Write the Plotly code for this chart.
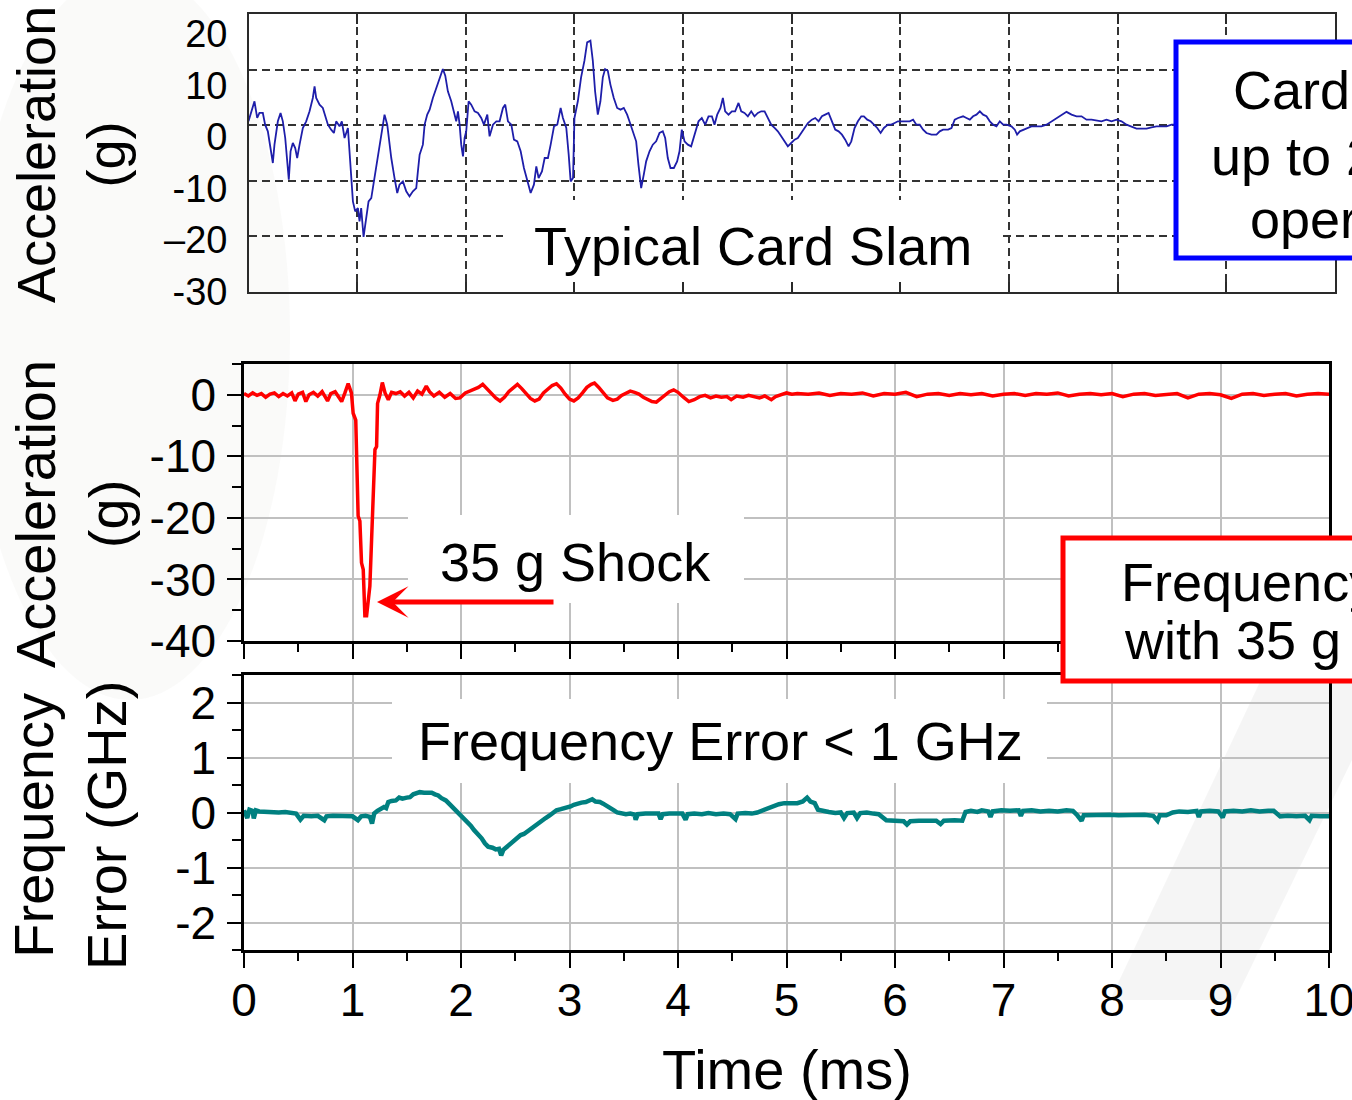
import plotly.graph_objects as go

W, H = 1352, 1100

# ---------------- data ----------------
# Top panel: typical card slam (g) vs time (ms)
slam_t = [0.000, 0.025, 0.055, 0.080, 0.101, 0.132, 0.153, 0.178, 0.209, 0.224, 0.239, 0.270, 0.295, 0.316,
          0.338, 0.356, 0.371, 0.387, 0.408, 0.430, 0.448, 0.470, 0.500, 0.531, 0.562, 0.592, 0.608, 0.623,
          0.654, 0.684, 0.700, 0.731, 0.761, 0.786, 0.807, 0.838, 0.859, 0.884, 0.915, 0.939, 0.961, 0.982,
          1.007, 1.022, 1.037, 1.059, 1.074, 1.105, 1.130, 1.160, 1.191, 1.222, 1.252, 1.277, 1.292, 1.314,
          1.344, 1.369, 1.390, 1.421, 1.452, 1.482, 1.513, 1.544, 1.559, 1.575, 1.605, 1.621, 1.645, 1.667,
          1.697, 1.728, 1.759, 1.789, 1.811, 1.835, 1.866, 1.891, 1.912, 1.928, 1.943, 1.958, 1.974, 1.989,
          2.004, 2.026, 2.050, 2.081, 2.112, 2.142, 2.167, 2.198, 2.219, 2.250, 2.281, 2.311, 2.342, 2.363,
          2.388, 2.419, 2.443, 2.474, 2.505, 2.535, 2.566, 2.597, 2.627, 2.649, 2.670, 2.701, 2.726, 2.756,
          2.781, 2.812, 2.842, 2.873, 2.894, 2.925, 2.947, 2.965, 2.987, 3.000, 3.031, 3.061, 3.092, 3.117,
          3.147, 3.169, 3.190, 3.215, 3.239, 3.261, 3.282, 3.307, 3.331, 3.362, 3.393, 3.424, 3.454, 3.485,
          3.506, 3.537, 3.568, 3.589, 3.614, 3.638, 3.660, 3.691, 3.721, 3.752, 3.783, 3.813, 3.835, 3.859,
          3.884, 3.915, 3.945, 3.967, 3.988, 4.013, 4.044, 4.074, 4.105, 4.142, 4.172, 4.203, 4.234, 4.265,
          4.289, 4.314, 4.344, 4.366, 4.387, 4.418, 4.449, 4.479, 4.510, 4.535, 4.565, 4.596, 4.627, 4.657,
          4.688, 4.719, 4.750, 4.780, 4.811, 4.842, 4.872, 4.903, 4.934, 4.964, 4.995, 5.026, 5.056, 5.087,
          5.118, 5.149, 5.185, 5.216, 5.247, 5.278, 5.308, 5.339, 5.370, 5.400, 5.431, 5.462, 5.492, 5.523,
          5.548, 5.578, 5.609, 5.640, 5.664, 5.695, 5.726, 5.756, 5.787, 5.818, 5.848, 5.885, 5.916, 5.947,
          5.977, 6.040, 6.086, 6.117, 6.147, 6.178, 6.209, 6.240, 6.286, 6.332, 6.362, 6.393, 6.439, 6.470,
          6.500, 6.531, 6.577, 6.608, 6.639, 6.669, 6.700, 6.731, 6.761, 6.792, 6.823, 6.853, 6.884, 6.915,
          6.946, 6.976, 7.022, 7.053, 7.074, 7.099, 7.130, 7.160, 7.206, 7.252, 7.298, 7.345, 7.391, 7.437,
          7.483, 7.529, 7.575, 7.621, 7.667, 7.713, 7.759, 7.805, 7.851, 7.897, 7.943, 7.989, 8.035, 8.081,
          8.127, 8.173, 8.219, 8.265, 8.311, 8.357, 8.403, 8.450, 8.496, 8.550]
slam_g = [0.7, 2.5, 4.3, 1.3, 2.2, 2.2, 0.1, -1.1, -5.3, -6.8, -3.5, 0.7, 2.2, 0.7,
          -2.3, -7.1, -9.8, -4.7, -3.2, -4.1, -5.9, -3.5, -0.5, 0.7, 2.5, 4.9, 7.0, 4.9,
          3.7, 3.1, 2.2, 0.1, -0.8, -1.4, 0.7, -0.2, 0.7, -2.3, -0.5, -7.1, -13.7, -15.5,
          -14.9, -17.3, -14.9, -20.1, -18.0, -13.7, -13.1, -9.5, -5.9, -2.3, 1.9, 0.1, -2.3, -5.9,
          -9.5, -12.2, -10.7, -10.1, -11.9, -12.8, -11.9, -11.3, -8.3, -5.3, -3.5, 0.1, 1.9, 2.8,
          4.9, 6.7, 8.6, 10.1, 8.9, 6.1, 4.3, 2.5, 0.7, 2.5, 0.1, -3.5, -5.6, -2.3,
          -1.1, 4.3, 3.7, 2.5, 2.2, 1.3, 0.1, 1.9, -2.0, 0.1, 0.7, 0.7, 3.1, 3.7,
          0.7, 0.1, -2.6, -2.9, -4.7, -7.7, -9.8, -12.2, -10.7, -7.4, -9.5, -8.3, -5.9, -5.9,
          -3.5, -0.2, 0.1, 3.1, 1.3, -0.5, -5.3, -10.1, -9.5, 1.3, 4.3, 8.6, 11.6, 14.9,
          15.2, 11.6, 6.1, 1.9, 4.3, 8.6, 10.1, 9.8, 7.3, 4.9, 3.1, 2.8, 3.1, 1.9,
          0.7, -1.1, -2.9, -7.1, -11.3, -8.9, -6.5, -4.7, -3.5, -2.9, -1.4, -1.1, -2.3, -5.9,
          -7.7, -7.7, -6.5, -4.7, -0.8, -2.9, -3.5, -3.8, -1.7, 0.7, 1.3, 0.1, 1.6, 1.6,
          0.1, 1.9, 3.1, 4.9, 2.5, 1.9, 2.5, 2.5, 4.0, 2.5, 2.2, 1.6, 2.5, 1.6,
          2.2, 2.5, 2.5, 1.3, 0.1, -0.5, -1.1, -2.0, -2.9, -3.8, -3.2, -2.6, -2.3, -1.4,
          -0.5, 0.4, 1.0, 1.3, 0.7, 1.6, 1.9, 2.2, 0.7, -0.8, -1.1, -1.7, -2.6, -3.8,
          -2.9, -0.5, 0.7, 1.6, 1.6, 1.0, 0.7, 0.1, -0.5, -1.4, -0.5, 0.1, 0.1, 0.4,
          0.7, 0.7, 0.7, 1.0, 0.1, 0.1, -0.8, -1.4, -1.7, -1.7, -1.1, -0.8, -0.8, -0.5,
          1.0, 1.3, 1.6, 1.3, 1.0, 1.6, 1.9, 2.5, 1.9, 1.6, 0.7, 0.1, -0.2, 0.7,
          0.1, 0.1, -0.2, -0.8, -1.7, -1.1, -0.8, -0.5, -0.2, -0.2, -0.2, 0.1, 0.7, 1.3,
          1.9, 2.4, 1.9, 1.6, 1.6, 1.0, 1.0, 0.8, 0.7, 1.0, 0.7, 1.0, 0.7, 0.1,
          -0.2, -0.6, -0.6, -0.6, -0.4, -0.2, -0.2, -0.2, 0.1, 0.1]

# Middle panel: 35 g shock (g) vs time (ms)
shock_t = [0.00, 0.04, 0.08, 0.12, 0.16, 0.20, 0.24, 0.28, 0.32, 0.36, 0.40, 0.44, 0.47, 0.50,
           0.54, 0.57, 0.60, 0.64, 0.68, 0.72, 0.77, 0.80, 0.84, 0.87, 0.90, 0.93, 0.96, 0.99,
           1.006, 1.030, 1.037, 1.046, 1.052, 1.068, 1.083, 1.099, 1.108, 1.114, 1.130, 1.145, 1.160,
           1.176, 1.191, 1.207, 1.222, 1.231, 1.253, 1.275, 1.30, 1.33, 1.36, 1.40, 1.44, 1.48,
           1.52, 1.56, 1.60, 1.64, 1.68, 1.71, 1.75, 1.80, 1.85, 1.90, 1.95, 1.99, 2.04, 2.08,
           2.12, 2.16, 2.20, 2.24, 2.28, 2.32, 2.36, 2.40, 2.44, 2.48, 2.52, 2.56, 2.60, 2.64,
           2.68, 2.72, 2.76, 2.80, 2.84, 2.88, 2.92, 2.96, 3.00, 3.04, 3.08, 3.12, 3.16, 3.20,
           3.23, 3.27, 3.31, 3.35, 3.40, 3.44, 3.48, 3.52, 3.56, 3.60, 3.64, 3.68, 3.72, 3.76,
           3.80, 3.84, 3.88, 3.92, 3.96, 4.00, 4.05, 4.10, 4.15, 4.20, 4.25, 4.30, 4.35, 4.40,
           4.45, 4.49, 4.54, 4.60, 4.65, 4.70, 4.75, 4.80, 4.86, 4.90, 4.95, 5.00, 5.05, 5.10,
           5.20, 5.30, 5.40, 5.50, 5.60, 5.70, 5.80, 5.90, 6.00, 6.10, 6.20, 6.30, 6.40, 6.50,
           6.60, 6.70, 6.80, 6.90, 7.00, 7.10, 7.20, 7.30, 7.40, 7.50, 7.60, 7.70, 7.80, 7.90,
           8.00, 8.10, 8.20, 8.30, 8.40, 8.50, 8.60, 8.70, 8.80, 8.90, 9.00, 9.10, 9.20, 9.30,
           9.40, 9.50, 9.60, 9.70, 9.80, 9.90, 10.00]
shock_g = [0.2, -0.2, 0.3, -0.1, 0.2, -0.4, 0.1, 0.3, -0.3, 0.2, -0.2, 0.3, -1.0, 0.1,
           0.4, -1.1, 0.0, 0.4, -0.2, 0.5, -1.0, 0.2, 0.5, -0.3, -1.1, 0.3, 1.8, 0.3,
           -3.0, -4.1, -10.5, -11.4, -19.7, -20.5, -27.3, -28.4, -32.2, -35.9, -35.9, -32.7, -31.1,
           -23.5, -16.5, -8.9, -8.4, -1.4, 0.0, 2.0, 0.3, -0.8, 0.4, 0.2, 0.5, -0.2,
           0.4, -0.5, 0.6, 0.1, 1.4, 0.5, -0.2, 0.4, -0.4, 0.2, -0.6, -0.5, 0.3, 0.6,
           0.9, 1.2, 1.7, 1.0, 0.3, -0.5, -1.0, -0.4, 0.5, 1.2, 1.7, 1.0, 0.2, -0.6,
           -1.0, -0.7, 0.3, 0.9, 1.5, 1.8, 1.1, 0.1, -0.7, -1.0, -0.5, 0.3, 1.2, 1.7,
           1.9, 1.2, 0.3, -0.5, -0.9, -0.7, -0.1, 0.3, 0.6, 0.4, 0.1, -0.4, -0.8, -1.1,
           -1.2, -0.6, 0.0, 0.5, 0.8, 0.4, -0.4, -1.1, -0.8, -0.3, -0.1, -0.5, -0.2, -0.4,
           -0.3, -0.8, -0.2, -0.4, -0.1, -0.3, -0.5, -0.2, -0.8, -0.3, 0.0, 0.3, 0.1, 0.2,
           0.1, 0.3, -0.1, 0.2, 0.1, 0.3, -0.2, 0.2, 0.1, 0.4, -0.3, 0.1, 0.2, -0.1,
           0.2, 0.0, 0.2, -0.2, 0.1, 0.2, -0.1, 0.2, 0.1, 0.3, -0.2, 0.1, 0.2, 0.0,
           0.2, -0.3, 0.1, 0.2, -0.1, 0.1, 0.2, -0.5, 0.1, 0.2, 0.0, -0.6, 0.1, 0.2,
           -0.1, 0.1, 0.2, -0.2, 0.1, 0.2, 0.1]

# Bottom panel: frequency error (GHz) vs time (ms)
ferr_t = [0.00, 0.03, 0.05, 0.08, 0.09, 0.11, 0.14, 0.20, 0.26, 0.32, 0.38, 0.44, 0.48, 0.52,
          0.55, 0.62, 0.68, 0.74, 0.76, 0.82, 0.88, 0.94, 1.00, 1.05, 1.08, 1.12, 1.16, 1.18,
          1.20, 1.23, 1.26, 1.29, 1.31, 1.33, 1.36, 1.40, 1.43, 1.46, 1.50, 1.53, 1.56, 1.59,
          1.62, 1.66, 1.70, 1.73, 1.76, 1.79, 1.82, 1.86, 1.89, 1.92, 1.96, 1.99, 2.02, 2.06,
          2.09, 2.12, 2.16, 2.19, 2.22, 2.25, 2.29, 2.32, 2.35, 2.37, 2.39, 2.42, 2.45, 2.49,
          2.52, 2.55, 2.58, 2.62, 2.65, 2.68, 2.71, 2.75, 2.78, 2.82, 2.85, 2.88, 2.92, 2.95,
          2.98, 3.01, 3.04, 3.08, 3.11, 3.15, 3.18, 3.21, 3.24, 3.28, 3.31, 3.34, 3.37, 3.41,
          3.44, 3.48, 3.52, 3.56, 3.60, 3.61, 3.63, 3.70, 3.76, 3.82, 3.84, 3.86, 3.92, 3.98,
          4.04, 4.07, 4.09, 4.15, 4.22, 4.28, 4.35, 4.42, 4.48, 4.53, 4.55, 4.62, 4.68, 4.73,
          4.78, 4.83, 4.88, 4.93, 4.98, 5.04, 5.10, 5.15, 5.19, 5.22, 5.26, 5.29, 5.34, 5.39,
          5.45, 5.50, 5.53, 5.56, 5.62, 5.65, 5.68, 5.74, 5.80, 5.85, 5.92, 6.00, 6.08, 6.11,
          6.14, 6.22, 6.30, 6.38, 6.42, 6.45, 6.55, 6.62, 6.65, 6.70, 6.76, 6.80, 6.86, 6.88,
          6.90, 6.98, 7.06, 7.14, 7.16, 7.18, 7.26, 7.34, 7.42, 7.50, 7.58, 7.64, 7.68, 7.72,
          7.74, 7.82, 7.90, 7.98, 8.06, 8.14, 8.22, 8.30, 8.38, 8.42, 8.44, 8.50, 8.56, 8.62,
          8.70, 8.78, 8.80, 8.82, 8.90, 8.98, 9.02, 9.04, 9.12, 9.20, 9.28, 9.36, 9.44, 9.49,
          9.55, 9.62, 9.70, 9.78, 9.82, 9.84, 9.92, 10.00]
ferr_ghz = [0.04, -0.10, 0.05, 0.03, -0.11, 0.04, 0.02, 0.01, 0.02, 0.00, 0.01, 0.00, -0.02, -0.13,
            -0.06, -0.07, -0.06, -0.14, -0.07, -0.06, -0.07, -0.06, -0.07, -0.14, -0.07, -0.06, -0.08, -0.20,
            -0.02, 0.03, 0.07, 0.10, 0.08, 0.19, 0.21, 0.22, 0.27, 0.25, 0.27, 0.28, 0.33, 0.35,
            0.37, 0.36, 0.37, 0.36, 0.33, 0.31, 0.26, 0.22, 0.16, 0.10, 0.03, -0.02, -0.08, -0.17,
            -0.24, -0.32, -0.40, -0.47, -0.56, -0.62, -0.64, -0.67, -0.66, -0.78, -0.68, -0.63, -0.58, -0.50,
            -0.46, -0.41, -0.39, -0.33, -0.29, -0.23, -0.20, -0.14, -0.10, -0.05, 0.00, 0.04, 0.06, 0.07,
            0.10, 0.11, 0.14, 0.17, 0.18, 0.19, 0.21, 0.24, 0.20, 0.19, 0.16, 0.13, 0.08, 0.04,
            0.00, -0.02, -0.03, -0.02, -0.04, -0.13, -0.03, -0.02, -0.03, -0.02, -0.12, -0.03, -0.02, -0.03,
            -0.02, -0.13, -0.03, -0.02, -0.03, -0.01, -0.03, -0.02, -0.03, -0.12, -0.02, -0.01, -0.02, 0.00,
            0.04, 0.07, 0.10, 0.15, 0.17, 0.18, 0.17, 0.20, 0.27, 0.20, 0.17, 0.05, 0.02, 0.01,
            -0.01, 0.00, -0.10, -0.01, 0.00, -0.10, -0.01, 0.00, -0.02, -0.03, -0.14, -0.15, -0.16, -0.22,
            -0.16, -0.15, -0.16, -0.15, -0.21, -0.15, -0.14, -0.15, 0.01, 0.03, 0.01, 0.04, 0.02, -0.08,
            0.02, 0.04, 0.03, 0.04, -0.06, 0.03, 0.04, 0.02, 0.03, 0.02, 0.04, 0.03, -0.05, -0.15,
            -0.05, -0.04, -0.05, -0.04, -0.05, -0.04, -0.05, -0.04, -0.06, -0.15, -0.05, -0.05, 0.00, 0.02,
            0.01, 0.03, -0.08, 0.02, 0.03, 0.02, -0.09, 0.02, 0.03, 0.02, 0.04, 0.02, 0.03, 0.03,
            -0.07, -0.06, -0.07, -0.06, -0.14, -0.06, -0.07, -0.07]

# Tick labels
time_ticks = [0, 1, 2, 3, 4, 5, 6, 7, 8, 9, 10]
time_labels = ["0", "1", "2", "3", "4", "5", "6", "7", "8", "9", "10"]
top_tick_vals = [20, 10, 0, -10, -20, -30]
top_tick_text = ["20", "10", "0", "-10", "\u201320", "-30"]
top_grid_vals = [10, 0, -10, -20]
mid_tick_vals = [0, -10, -20, -30, -40]
mid_tick_text = ["0", "-10", "-20", "-30", "-40"]
bot_tick_vals = [2, 1, 0, -1, -2]
bot_tick_text = ["2", "1", "0", "-1", "-2"]

# ---------------- layout helpers (pixel -> paper / axis units) ----------------
FONT = "Liberation Sans, Arial, Helvetica, sans-serif"


def fx(px):
    return px / W


def fy(py):
    return 1 - py / H


# panel pixel boxes: (left, right, top, bottom) and y ranges
TOP = (248.5, 1335, 14, 292)
MID = (244, 1329, 364, 641)
BOT = (244, 1329, 675, 950)
TOP_R = (-30, 20)
MID_R = (-40, 5)
BOT_R = (-2.5, 2.5)


def ax_x(px, box):
    return (px - box[0]) / (box[1] - box[0]) * 10


def ax_y(py, box, rng):
    return rng[0] + (box[3] - py) / (box[3] - box[2]) * (rng[1] - rng[0])


fig = go.Figure()
fig.add_trace(go.Scatter(x=slam_t, y=slam_g, xaxis="x", yaxis="y", mode="lines",
                         line=dict(color="#1e1eaa", width=1.8), hoverinfo="skip"))
fig.add_trace(go.Scatter(x=[], y=[], xaxis="x", yaxis="y4", mode="lines", hoverinfo="skip"))
fig.add_trace(go.Scatter(x=shock_t, y=shock_g, xaxis="x2", yaxis="y2", mode="lines",
                         line=dict(color="#ff0000", width=3.5), hoverinfo="skip"))
fig.add_trace(go.Scatter(x=ferr_t, y=ferr_ghz, xaxis="x3", yaxis="y3", mode="lines",
                         line=dict(color="#008080", width=4.5), hoverinfo="skip"))

top_grid = dict(showgrid=True, gridcolor="#333333", gridwidth=1.5, griddash="8px,5px",
                zeroline=False, showline=True, linecolor="#2a2a2a", linewidth=2)
box_axis = dict(showgrid=True, gridcolor="#c0c0c0", gridwidth=2, zeroline=False,
                showline=True, linecolor="black", linewidth=2.5, mirror=True,
                tickcolor="black", tickwidth=2, ticks="outside", automargin=False)

fig.update_layout(
    width=W, height=H, margin=dict(l=0, r=0, t=0, b=0, pad=0, autoexpand=False),
    paper_bgcolor="white", plot_bgcolor="rgba(0,0,0,0)",
    showlegend=False, font=dict(family=FONT, color="black"),
    xaxis=dict(domain=[fx(TOP[0]), fx(TOP[1])], anchor="y", range=[0, 10],
               tickvals=time_ticks, showticklabels=False, ticks="inside", ticklen=10,
               tickwidth=2, tickcolor="#2a2a2a", mirror="ticks", automargin=False, **top_grid),
    yaxis=dict(domain=[fy(TOP[3]), fy(TOP[2])], anchor="x", range=list(TOP_R),
               tickvals=top_grid_vals, showticklabels=False, ticks="", mirror=True,
               automargin=False, **top_grid),
    yaxis4=dict(overlaying="y", anchor="x", side="left", range=[-30.05, 23.83],
                tickvals=top_tick_vals, ticktext=top_tick_text, showgrid=False, zeroline=False,
                showline=False, ticks="", ticklabelstandoff=20, automargin=False,
                tickfont=dict(family=FONT, size=38, color="black")),
    xaxis2=dict(domain=[fx(MID[0]), fx(MID[1])], anchor="y2", range=[0, 10],
                tickvals=time_ticks, showticklabels=False, ticklen=15,
                minor=dict(ticks="outside", ticklen=8, tickwidth=2, tickcolor="black",
                           dtick=0.5, tick0=0, showgrid=False), **box_axis),
    yaxis2=dict(domain=[fy(MID[3]), fy(MID[2])], anchor="x2", range=list(MID_R),
                tickvals=mid_tick_vals, ticktext=mid_tick_text, ticklen=14, ticklabelstandoff=2,
                tickfont=dict(family=FONT, size=46, color="black"),
                minor=dict(ticks="outside", ticklen=9, tickwidth=2, tickcolor="black",
                           dtick=5, tick0=0, showgrid=False), **box_axis),
    xaxis3=dict(domain=[fx(BOT[0]), fx(BOT[1])], anchor="y3", range=[0, 10],
                tickvals=time_ticks, ticktext=time_labels, ticklen=15, ticklabelstandoff=-7,
                ticklabeloverflow="allow",
                tickfont=dict(family=FONT, size=46, color="black"),
                minor=dict(ticks="outside", ticklen=8, tickwidth=2, tickcolor="black",
                           dtick=0.5, tick0=0, showgrid=False), **box_axis),
    yaxis3=dict(domain=[fy(BOT[3]), fy(BOT[2])], anchor="x3", range=list(BOT_R),
                tickvals=bot_tick_vals, ticktext=bot_tick_text, ticklen=14, ticklabelstandoff=2,
                tickfont=dict(family=FONT, size=46, color="black"),
                minor=dict(ticks="outside", ticklen=9, tickwidth=2, tickcolor="black",
                           dtick=0.5, tick0=0, showgrid=False), **box_axis),
)

shapes = [
    # faint background watermark
    dict(type="circle", xref="paper", yref="paper", layer="below",
         x0=fx(-30), x1=fx(290), y0=fy(700), y1=fy(-30),
         fillcolor="rgba(140,130,120,0.045)", line=dict(width=0)),
    dict(type="path", xref="paper", yref="paper", layer="below",
         path=(f"M {fx(1275)},{fy(650)} L {fx(1352)},{fy(610)} L {fx(1352)},{fy(760)} "
               f"L {fx(1235)},{fy(1000)} L {fx(1110)},{fy(1000)} Z"),
         fillcolor="rgba(0,0,0,0.04)", line=dict(width=0)),
    # white label backgrounds (above grid, below traces/ticks)
    dict(type="rect", xref="x", yref="y", layer="between",
         x0=ax_x(503, TOP), x1=ax_x(1000, TOP),
         y0=ax_y(290.5, TOP, TOP_R), y1=ax_y(200, TOP, TOP_R),
         fillcolor="white", line=dict(width=0)),
    dict(type="rect", xref="x2", yref="y2", layer="between",
         x0=ax_x(408, MID), x1=ax_x(744, MID),
         y0=ax_y(603, MID, MID_R), y1=ax_y(515, MID, MID_R),
         fillcolor="white", line=dict(width=0)),
    dict(type="rect", xref="x3", yref="y3", layer="between",
         x0=ax_x(392, BOT), x1=ax_x(1047, BOT),
         y0=ax_y(783, BOT, BOT_R), y1=ax_y(699, BOT, BOT_R),
         fillcolor="white", line=dict(width=0)),
    # callout boxes
    dict(type="rect", xref="paper", yref="paper", layer="above",
         x0=fx(1176), x1=fx(1420), y0=fy(258), y1=fy(42),
         fillcolor="white", line=dict(color="#0000ff", width=5)),
    dict(type="rect", xref="paper", yref="paper", layer="above",
         x0=fx(1063), x1=fx(1420), y0=fy(681), y1=fy(538),
         fillcolor="white", line=dict(color="#ff0000", width=5)),
]
fig.update_layout(shapes=shapes)

BIG = dict(family=FONT, size=54, color="black")
TITLE = dict(family=FONT, size=54, color="black")
TITLE2 = dict(family=FONT, size=56, color="black")


def note(text, x, y, font, xanchor="center", angle=0):
    return dict(text=text, x=fx(x), y=fy(y), xref="paper", yref="paper", showarrow=False,
                xanchor=xanchor, yanchor="middle", font=font, textangle=angle)


annotations = [
    note("Typical Card Slam", 752.5, 246, BIG),
    note("35 g Shock", 575.5, 562, BIG),
    note("Frequency Error &lt; 1 GHz", 720.5, 741, BIG),
    note("Card Slam", 1231, 90, BIG, xanchor="left"),
    note("up to 20 g", 1209, 156, BIG, xanchor="left"),
    note("operation", 1248, 219, BIG, xanchor="left"),
    note("Frequency Error", 1119, 582, BIG, xanchor="left"),
    note("with 35 g Shock", 1122, 640, BIG, xanchor="left"),
    note("Acceleration<br>(g)", 71, 155, TITLE, angle=-90),
    note("Acceleration<br>(g)", 72, 514, TITLE2, angle=-90),
    note("Frequency<br>Error (GHz)", 70, 826, TITLE2, angle=-90),
    note("Time (ms)", 787, 1069, TITLE2),
    # red arrow pointing at the shock minimum
    dict(text="", x=fx(377), y=fy(602), xref="paper", yref="paper", showarrow=True,
         ax=178, ay=0, axref="pixel", ayref="pixel", arrowhead=3, arrowsize=1.05,
         arrowwidth=5, arrowcolor="#ff0000", standoff=0),
]
fig.update_layout(annotations=annotations)

fig.write_html("out.html")
